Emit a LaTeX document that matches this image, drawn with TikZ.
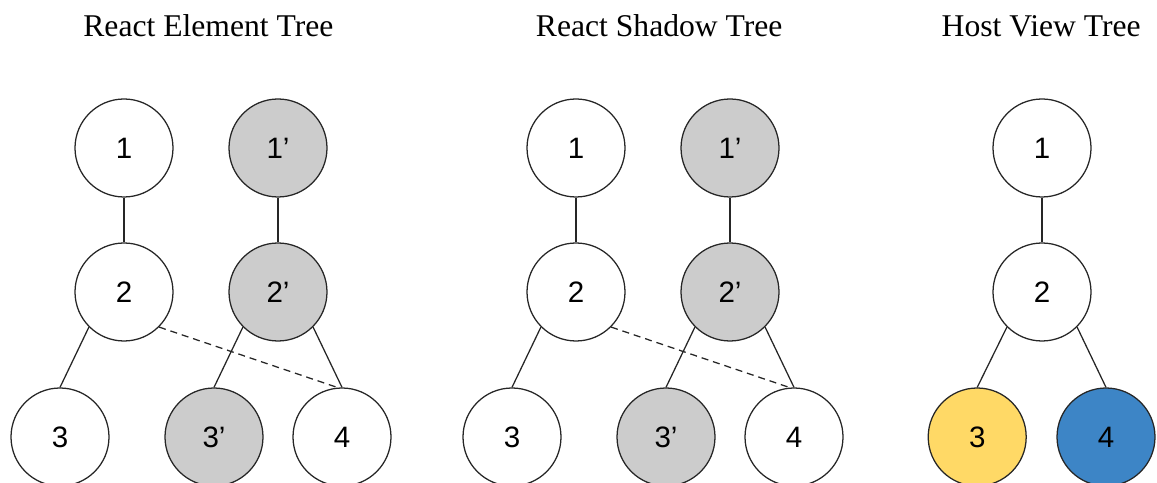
\documentclass[tikz,border=0pt]{standalone}
\usepackage{fontspec}
\setmainfont{Liberation Serif}
\newfontfamily\numfont{Liberation Sans}
\definecolor{oldgray}{HTML}{CCCCCC}
\definecolor{hostyellow}{HTML}{FFD966}
\definecolor{hostblue}{HTML}{3D85C6}
\tikzset{
  treenode/.style={circle, draw=black!85, line width=0.9pt, fill=white,
    minimum size=2.45cm, inner sep=0pt, font=\numfont\fontsize{21}{25}\selectfont},
  oldnode/.style={treenode, fill=oldgray},
  title/.style={anchor=base, font=\fontsize{22.5}{27}\selectfont},
  link/.style={draw=black!85, line width=0.9pt},
}
\begin{document}
\begin{tikzpicture}
  \useasboundingbox (0,0) rectangle (28.925,12.075);

  % titles
  \node[title] (etitle) at (5.21,11.15) {React Element Tree};
  \node[title] (stitle) at (16.48,11.15) {React Shadow Tree};
  \node[title] (htitle) at (26.03,11.15) {Host View Tree};

  % element tree
  \node[treenode] (e1) at (3.1,8.375) {1};
  \node[oldnode] (e1p) at (6.95,8.375) {1’};
  \node[treenode] (e2) at (3.1,4.775) {2};
  \node[oldnode] (e2p) at (6.95,4.775) {2’};
  \node[treenode] (e3) at (1.5,1.15) {3};
  \node[oldnode] (e3p) at (5.35,1.15) {3’};
  \node[treenode] (e4) at (8.55,1.15) {4};
  \draw[link] (e1) -- (e2);
  \draw[link] (e1p) -- (e2p);
  \draw[link] (e2.south west) -- (e3.north);
  \draw[link] (e2p.south west) -- (e3p.north);
  \draw[link] (e2p.south east) -- (e4.north);
  \draw[link, dash pattern=on 5pt off 3.5pt] (e2.south east) -- (e4.95);

  % shadow tree
  \node[treenode] (s1) at (14.4,8.375) {1};
  \node[oldnode] (s1p) at (18.25,8.375) {1’};
  \node[treenode] (s2) at (14.4,4.775) {2};
  \node[oldnode] (s2p) at (18.25,4.775) {2’};
  \node[treenode] (s3) at (12.8,1.15) {3};
  \node[oldnode] (s3p) at (16.65,1.15) {3’};
  \node[treenode] (s4) at (19.85,1.15) {4};
  \draw[link] (s1) -- (s2);
  \draw[link] (s1p) -- (s2p);
  \draw[link] (s2.south west) -- (s3.north);
  \draw[link] (s2p.south west) -- (s3p.north);
  \draw[link] (s2p.south east) -- (s4.north);
  \draw[link, dash pattern=on 5pt off 3.5pt] (s2.south east) -- (s4.95);

  % host view tree
  \node[treenode] (h1) at (26.05,8.375) {1};
  \node[treenode] (h2) at (26.05,4.775) {2};
  \node[treenode, fill=hostyellow] (h3) at (24.43,1.15) {3};
  \node[treenode, fill=hostblue] (h4) at (27.65,1.15) {4};
  \draw[link] (h1) -- (h2);
  \draw[link] (h2.south west) -- (h3.north);
  \draw[link] (h2.south east) -- (h4.north);
\end{tikzpicture}
\end{document}
